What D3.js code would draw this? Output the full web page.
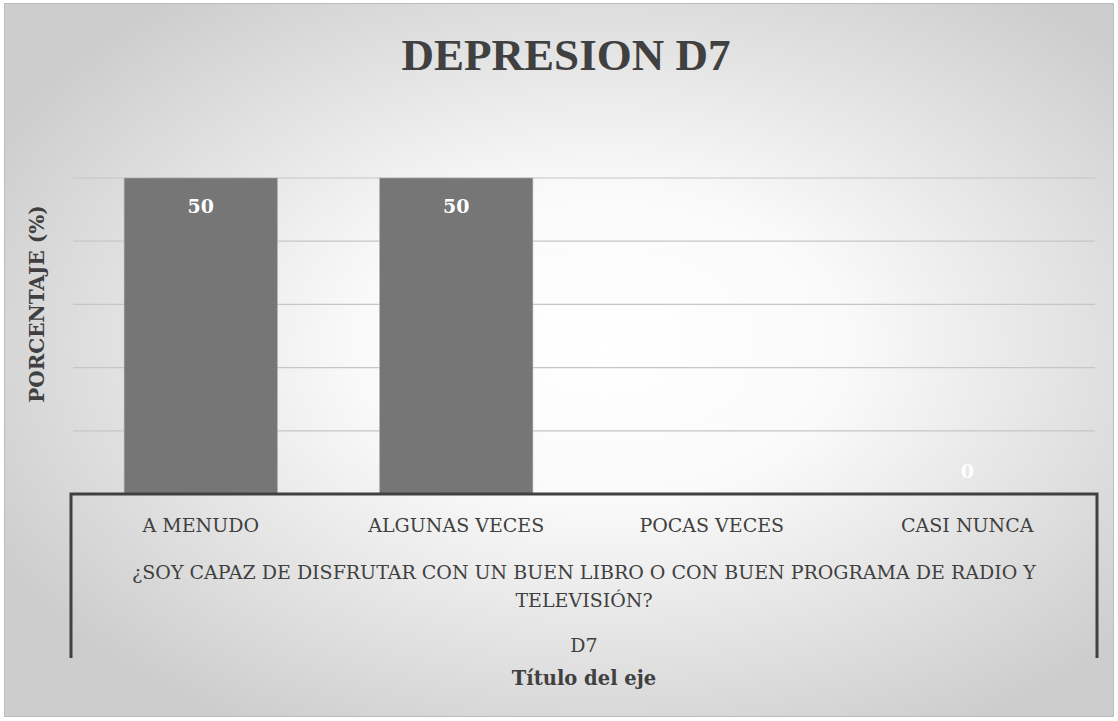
<!DOCTYPE html>
<html>
<head>
<meta charset="utf-8">
<script src="https://cdn.jsdelivr.net/npm/d3@7"></script>
<style>
  body { margin: 0; background: #fff; }
  text { font-family: "DejaVu Serif", "Liberation Serif", serif; }
</style>
</head>
<body>
<div id="chart-area"></div>
<script>
// data
const categories = ["A MENUDO", "ALGUNAS VECES", "POCAS VECES", "CASI NUNCA"];
const values = [50, 50, null, 0];
const yTicks = [0, 10, 20, 30, 40, 50];
const groupLabel = ["¿SOY CAPAZ DE DISFRUTAR CON UN BUEN LIBRO O CON BUEN PROGRAMA DE RADIO Y", "TELEVISIÓN?"];
const seriesLabel = "D7";

const W = 1118, H = 721;
const margin = { left: 73, right: 23, top: 178, bottom: 227 };
const width = W - margin.left - margin.right, height = H - margin.top - margin.bottom;

const svg = d3.select("#chart-area")
  .append("svg")
    .attr("width", W)
    .attr("height", H);

// background gradient
const defs = svg.append("defs");
const grad = defs.append("radialGradient")
  .attr("id", "bg")
  .attr("cx", "54%").attr("cy", "48%").attr("r", "62%");
grad.append("stop").attr("offset", "0%").attr("stop-color", "#ffffff");
grad.append("stop").attr("offset", "35%").attr("stop-color", "#fafafa");
grad.append("stop").attr("offset", "100%").attr("stop-color", "#cdcdcd");

svg.append("rect")
  .attr("x", 4.5).attr("y", 3.5)
  .attr("width", W - 9).attr("height", H - 8)
  .attr("fill", "url(#bg)")
  .attr("stroke", "#bcbcbc")
  .attr("stroke-width", 1);

const g = svg.append("g")
  .attr("transform", "translate(" + margin.left + "," + margin.top + ")");

const x = d3.scaleBand()
  .domain(categories)
  .range([0, width])
  .paddingInner(0.4)
  .paddingOuter(0.2);

const y = d3.scaleLinear()
  .domain([0, 50])
  .range([height, 0]);

// gridlines
g.append("g")
  .selectAll("line")
  .data(yTicks.slice(1))
  .enter().append("line")
    .attr("x1", 0).attr("x2", width)
    .attr("y1", d => y(d)).attr("y2", d => y(d))
    .attr("stroke", "#c6c6c6")
    .attr("stroke-width", 1.2);

const barData = categories.map((c, i) => ({ c: c, v: values[i] })).filter(d => d.v !== null);

// bars
g.selectAll("rect.bar")
  .data(barData)
  .enter().append("rect")
    .attr("class", "bar")
    .attr("x", d => x(d.c))
    .attr("y", d => y(d.v))
    .attr("width", x.bandwidth())
    .attr("height", d => height - y(d.v))
    .attr("fill", "#767676")
    .attr("stroke", "#b0b0b0")
    .attr("stroke-width", 0.6);

// value labels
g.selectAll("text.val")
  .data(barData)
  .enter().append("text")
    .attr("class", "val")
    .attr("x", d => x(d.c) + x.bandwidth() / 2)
    .attr("y", d => d.v > 0 ? y(d.v) + 35 : y(0) - 16)
    .attr("text-anchor", "middle")
    .attr("font-size", "19px")
    .attr("font-weight", "bold")
    .attr("fill", "#ffffff")
    .text(d => d.v);

// multi-level axis box
const boxBottom = 164;
g.append("path")
  .attr("d", "M-2," + (height + boxBottom) + "V" + height + "H" + (width + 2) + "V" + (height + boxBottom))
  .attr("fill", "none")
  .attr("stroke", "#404040")
  .attr("stroke-width", 3);

g.selectAll("text.cat")
  .data(categories)
  .enter().append("text")
    .attr("class", "cat")
    .attr("x", d => x(d) + x.bandwidth() / 2)
    .attr("y", height + 38)
    .attr("text-anchor", "middle")
    .attr("font-size", "19px")
    .attr("fill", "#404040")
    .text(d => d);

g.selectAll("text.grp")
  .data(groupLabel)
  .enter().append("text")
    .attr("class", "grp")
    .attr("x", width / 2)
    .attr("y", (d, i) => height + 85 + i * 28)
    .attr("text-anchor", "middle")
    .attr("font-size", "19px")
    .attr("fill", "#404040")
    .text(d => d);

g.append("text")
  .attr("x", width / 2)
  .attr("y", height + 158)
  .attr("text-anchor", "middle")
  .attr("font-size", "19px")
  .attr("fill", "#404040")
  .text(seriesLabel);

// axis titles
g.append("text")
  .attr("x", width / 2)
  .attr("y", height + 191)
  .attr("text-anchor", "middle")
  .attr("font-size", "19.5px")
  .attr("font-weight", "bold")
  .attr("fill", "#404040")
  .text("Título del eje");

g.append("text")
  .attr("transform", "rotate(-90)")
  .attr("x", -(height / 2) + 32)
  .attr("y", -29)
  .attr("text-anchor", "middle")
  .attr("font-size", "20px")
  .attr("font-weight", "bold")
  .attr("fill", "#404040")
  .text("PORCENTAJE (%)");

// title
svg.append("text")
  .attr("x", 566)
  .attr("y", 70)
  .attr("text-anchor", "middle")
  .style("font-family", "'Liberation Serif', serif")
  .attr("font-size", "45px")
  .attr("font-weight", "bold")
  .attr("fill", "#404040")
  .text("DEPRESION D7");
</script>
</body>
</html>
